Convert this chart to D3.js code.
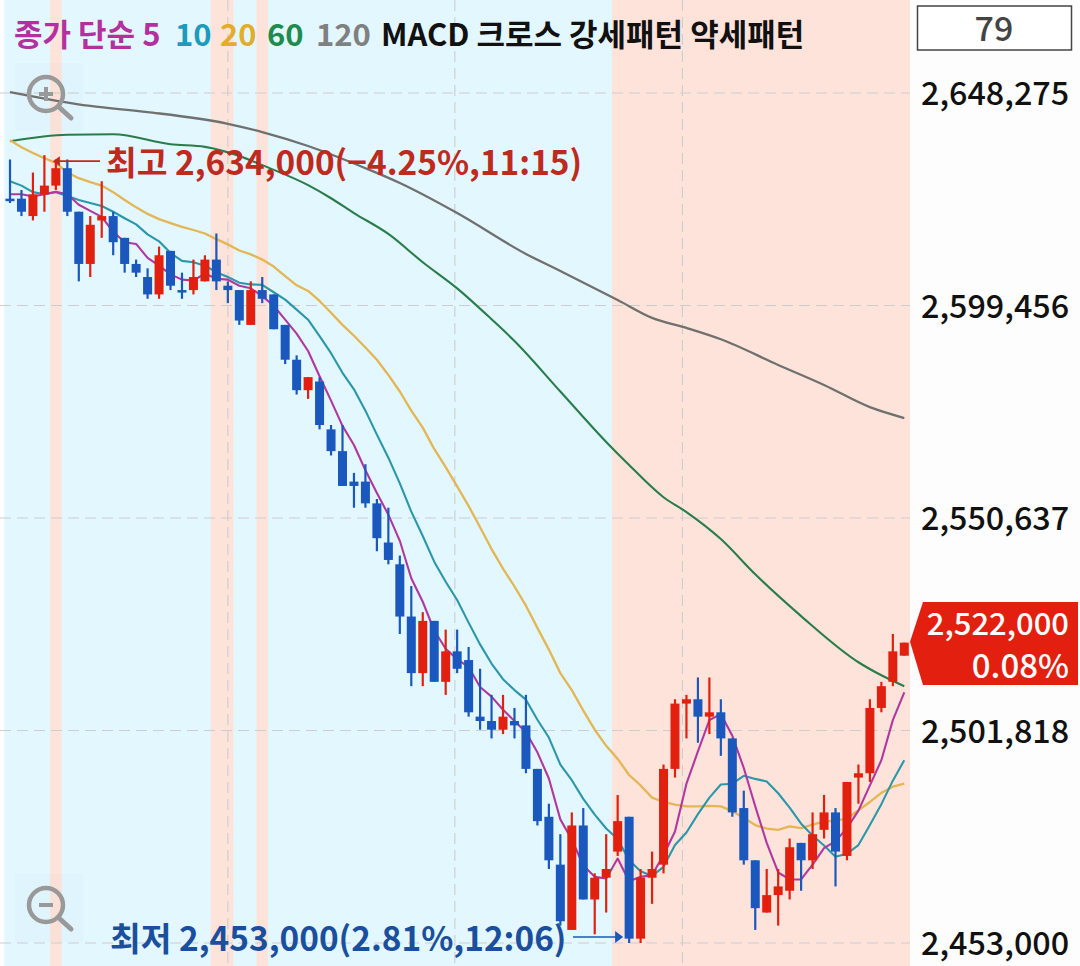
<!DOCTYPE html>
<html><head><meta charset="utf-8">
<style>
html,body{margin:0;padding:0;background:#fff}
svg{display:block}
text{font-family:"Noto Sans CJK KR","Noto Sans",sans-serif}
</style>
<script src="https://cdn.jsdelivr.net/npm/d3@7/dist/d3.min.js"></script>
</head><body>
<svg id="c" width="1080" height="966"></svg>
<script>
// prices in thousands of won
const opens=[2624,2624,2620,2625,2627,2631,2621,2609,2619,2620,2615,2609,2606,2602,2612,2603,2603,2605,2610,2604,2603,2595,2603,2602,2595,2587,2580,2582,2571,2566,2559,2559,2554,2545,2540,2528,2515,2527,2513,2520,2518,2505,2504,2502,2504,2503,2493,2482,2471,2456,2480,2463,2468,2474,2482,2454,2468,2471,2493,2508,2509,2505,2506,2500,2484,2472,2460,2464,2465,2476,2472,2479,2483,2473,2491,2492,2507,2513,2519];
const highs=[2633,2626,2630,2634,2633,2633,2621,2620,2628,2621,2615,2610,2608,2613,2612,2607,2610,2611,2616,2605,2603,2605,2606,2602,2595,2588,2583,2583,2572,2572,2561,2563,2555,2553,2542,2535,2529,2527,2525,2525,2521,2516,2510,2510,2507,2510,2493,2485,2478,2483,2484,2469,2478,2487,2482,2470,2474,2494,2509,2510,2514,2514,2509,2500,2488,2472,2470,2470,2477,2476,2483,2487,2484,2490,2494,2509,2513,2524,2522];
const lows=[2623,2620,2619,2621,2626,2620,2605,2606,2615,2611,2607,2606,2601,2601,2603,2601,2602,2605,2603,2600,2595,2595,2600,2594,2586,2579,2578,2571,2565,2558,2553,2553,2543,2540,2524,2512,2512,2513,2510,2515,2505,2502,2500,2501,2500,2492,2480,2470,2457,2456,2463,2455,2460,2473,2453,2453,2462,2469,2491,2500,2499,2501,2496,2482,2471,2456,2460,2457,2463,2465,2470,2477,2466,2472,2485,2490,2506,2512,2519];
const closes=[2624,2621,2625,2627,2631,2621,2609,2618,2620,2614,2609,2607,2602,2611,2604,2603,2606,2610,2605,2603,2596,2603,2601,2594,2587,2580,2583,2572,2566,2558,2558,2554,2546,2541,2528,2515,2527,2513,2520,2516,2506,2504,2502,2505,2503,2493,2481,2472,2458,2480,2463,2468,2470,2481,2454,2468,2470,2493,2508,2509,2505,2506,2500,2483,2472,2461,2464,2466,2475,2472,2478,2483,2474,2490,2492,2507,2512,2520,2522];
const ma5=[2625,2625,2624.5,2625,2625.6,2625,2622.6,2621.2,2619.8,2616.4,2614,2613.6,2610.4,2608.6,2606.6,2605.4,2605.2,2606.8,2605.6,2605.4,2604,2603.4,2601.6,2599.4,2596.2,2593,2589,2583.2,2577.6,2571.8,2567.4,2561.6,2556.4,2551.4,2545.4,2536.8,2531.4,2524.8,2520.6,2518.2,2516.4,2511.8,2509.6,2506.6,2504,2501.4,2496.8,2490.8,2481.4,2476.8,2470.8,2468.2,2467.8,2472.4,2467.2,2468.2,2468.6,2473.2,2478.6,2489.6,2497,2504.2,2505.6,2500.6,2493.2,2484.4,2476,2469.2,2467.6,2467.6,2471,2474.8,2476.4,2479.4,2483.4,2489.2,2495,2504.2,2510.6];
const ma10=[2628,2627,2625.5,2625,2625.5,2624.6,2623.7,2623,2622.3,2621,2619.5,2618.1,2615.8,2614.2,2611.5,2609.7,2609.4,2608.6,2607.1,2606,2604.7,2604.3,2604.2,2602.5,2600.8,2598.5,2596.2,2592.4,2588.5,2584,2580.2,2575.3,2569.8,2564.5,2558.6,2552.1,2546.5,2540.6,2536,2531.8,2526.6,2521.6,2517.2,2513.6,2511.1,2508.9,2504.3,2500.2,2494,2490.4,2486.1,2482.5,2479.3,2476.9,2472,2469.5,2468.4,2470.5,2475.5,2478.4,2482.6,2486.4,2489.4,2489.6,2491.4,2490.7,2490.1,2487.4,2484.1,2480.4,2477.7,2475.4,2472.8,2473.5,2475.5,2480.1,2484.9,2490.3,2495];
const ma20=[2637.4,2635.8,2634.5,2633.3,2632.2,2630,2628.7,2627.8,2627,2625.5,2623.7,2622,2620.5,2619.3,2618.4,2617.5,2616.8,2616,2614.7,2613.5,2612.1,2611.2,2610,2608.4,2606.2,2604.1,2602.8,2600.5,2597.8,2595,2592.5,2589.8,2587,2583.5,2579.7,2575.3,2571.4,2566.5,2562.3,2557.9,2553.4,2548.5,2543.5,2539,2534.9,2530.5,2525.4,2520.4,2515,2511.1,2506.4,2502,2498.3,2495.3,2491.6,2489.2,2486.4,2485.4,2484.8,2484.4,2484.4,2484.5,2484.4,2483.3,2481.7,2480.1,2479.3,2479,2479.8,2479.4,2480.2,2480.9,2481.1,2481.6,2483.5,2485.4,2487.5,2488.9,2489.6];
const ma60Idx=[0,5,9,14,17,20,22,26,28,30,33,36,39,42,44,48,52,54,57,59,62,65,69,74,76,78];
const ma60=[2637.2,2638.7,2638.8,2636.5,2635.9,2633.8,2631.7,2627.1,2624.1,2620.7,2615.9,2609.4,2603.4,2596.3,2591.3,2579.7,2568.1,2562.8,2555.4,2552,2545.8,2537.7,2528.1,2517.5,2514.5,2512];
const ma120Idx=[0,7,12,19,22,26,31,34,39,45,48,53,56,59,62,67,71,75,78];
const ma120=[2648.5,2645.3,2643.9,2641.2,2639.3,2636.1,2631,2627.6,2620.7,2611.3,2607.4,2600.7,2596.6,2594.3,2591.7,2585.8,2581.2,2576.1,2573.6];
const signalBars=[4,18,19,22];
const strongStart=53;
const gridIdx=[19,38.8,58.65];
const priceTicks=[2648275,2599456,2550637,2501818,2453000];
const legendItems=[["종가 단순 5",14,"#b5309f"],["10",175,"#1e9abb"],["20",220,"#e3ad2c"],["60",267,"#1f8c4d"],["120",316,"#808080"],["MACD 크로스 강세패턴 약세패턴",381,"#111"]];
const highLabel="최고 2,634,000(−4.25%,11:15)";
const lowLabel="최저 2,453,000(2.81%,12:06)";
const lastPct="0.08%";
const barCount="79";

const svg=d3.select("#c");
const n=closes.length;
const x=d3.scaleLinear().domain([0,n-1]).range([10,904.3]);
const y=d3.scaleLinear().domain([priceTicks[4],priceTicks[0]]).range([943,93]);
const Y=v=>y(v*1000);
const step=x(1)-x(0);
const fmt=d3.format(",");

// backgrounds
svg.append("rect").attr("x",0).attr("y",0).attr("width",1080).attr("height",966).attr("fill","#fdfdfd");
const bgL=x(-0.5), bgR=x(n-0.5), bgM=x(strongStart-0.5);
svg.append("rect").attr("x",bgL).attr("y",0).attr("width",bgM-bgL).attr("height",966).attr("fill","#e2f7ff");
svg.append("rect").attr("x",bgM).attr("y",0).attr("width",bgR-bgM).attr("height",966).attr("fill","#fee3db");
svg.append("g").selectAll("rect").data(signalBars).join("rect")
  .attr("x",d=>x(d-0.5)).attr("y",0).attr("width",step).attr("height",966).attr("fill","#fee3db");

// grid
const grid=svg.append("g").attr("stroke","#cdcdcd").attr("stroke-width",1.1).attr("stroke-dasharray","11 6").attr("fill","none");
grid.selectAll("line.h").data(priceTicks).join("line").attr("class","h")
  .attr("x1",0).attr("x2",bgR).attr("y1",d=>y(d)).attr("y2",d=>y(d));
grid.selectAll("line.v").data(gridIdx).join("line").attr("class","v")
  .attr("x1",d=>x(d)).attr("x2",d=>x(d)).attr("y1",0).attr("y2",966);

// moving averages
const line=d3.line().x(d=>x(d[0])).y(d=>Y(d[1]));
const smooth=d3.line().x(d=>x(d[0])).y(d=>Y(d[1])).curve(d3.curveMonotoneX);
const series=[
 [smooth,ma120.map((v,i)=>[ma120Idx[i],v]),"#70706f",2.3],
 [smooth,ma60.map((v,i)=>[ma60Idx[i],v]),"#2a7d4b",2.1],
 [line,ma20.map((v,i)=>[i,v]),"#e4b654",2.3],
 [line,ma10.map((v,i)=>[i,v]),"#2b97a9",2.1],
 [line,ma5.map((v,i)=>[i,v]),"#b0389f",2.1]
];
svg.append("g").selectAll("path").data(series).join("path")
  .attr("d",d=>d[0](d[1])).attr("fill","none").attr("stroke",d=>d[2]).attr("stroke-width",d=>d[3]).attr("stroke-linejoin","round");

// candles
const col=i=>closes[i]>opens[i]?"#e2200f":"#1a58bd";
const idx=d3.range(n);
const cg=svg.append("g");
cg.selectAll("line").data(idx).join("line")
  .attr("x1",i=>x(i)).attr("x2",i=>x(i)).attr("y1",i=>Y(highs[i])).attr("y2",i=>Y(lows[i]))
  .attr("stroke",col).attr("stroke-width",2.2);
cg.selectAll("rect").data(idx).join("rect")
  .attr("x",i=>x(i)-4.5).attr("width",9)
  .attr("y",i=>Math.min(Y(opens[i]),Y(closes[i])))
  .attr("height",i=>Math.max(2.5,Math.abs(Y(opens[i])-Y(closes[i]))))
  .attr("fill",col);

// legend
svg.append("g").selectAll("text").data(legendItems).join("text")
  .attr("x",d=>d[1]).attr("y",46).attr("fill",d=>d[2])
  .attr("font-size",31).attr("font-weight",700).text(d=>d[0]);

// high and low annotation
const hiColor="#bf2a1e", loColor="#1b4f9e";
const hy=y(2634000)+6, ly=y(2453000)-6;
svg.append("line").attr("x1",100).attr("x2",x(4)-1).attr("y1",hy).attr("y2",hy).attr("stroke",hiColor).attr("stroke-width",1.6);
svg.append("path").attr("d",d3.line()([[x(4)-3,hy],[x(4)+4,hy-5],[x(4)+4,hy+5]])).attr("fill",hiColor);
svg.append("text").attr("x",106).attr("y",175).attr("fill",hiColor).attr("font-size",33.4).attr("font-weight",700).text(highLabel);
svg.append("line").attr("x1",573).attr("x2",x(54)-10).attr("y1",ly).attr("y2",ly).attr("stroke","#1a58bd").attr("stroke-width",1.6);
svg.append("path").attr("d",d3.line()([[x(54)-6,ly],[x(54)-14,ly-6],[x(54)-14,ly+6]])).attr("fill","#1a58bd");
svg.append("text").attr("x",110).attr("y",951).attr("fill",loColor).attr("font-size",33.4).attr("font-weight",700).text(lowLabel);

// axis labels
const axis=d3.axisRight(y).tickValues(priceTicks).tickSize(0).tickPadding(0).tickFormat(fmt);
const ag=svg.append("g").attr("transform","translate(921,0)").call(axis);
ag.select(".domain").remove();
ag.selectAll("text").attr("font-size",32.3).attr("font-weight",500).attr("fill","#111").attr("dy","0.37em")
  .style("font-family",'"Noto Sans CJK KR"');

// bar count box
svg.append("rect").attr("x",917.5).attr("y",6).attr("width",154).attr("height",44).attr("fill","#fff").attr("stroke","#444").attr("stroke-width",1.5);
svg.append("text").attr("x",994).attr("y",41).attr("text-anchor","middle").attr("font-size",34).attr("font-weight",500).attr("fill","#444").text(barCount);

// last price tag
const ty=Y(closes[n-1])-1;
svg.append("path").attr("d",d3.line()([[910,ty],[923,602],[1078,602],[1078,685],[923,685]])+"Z").attr("fill","#e3200f");
svg.append("text").attr("x",1069).attr("y",635).attr("text-anchor","end").attr("font-size",31).attr("font-weight",500).attr("fill","#fff").text(fmt(closes[n-1]*1000));
svg.append("text").attr("x",1069).attr("y",678).attr("text-anchor","end").attr("font-size",33).attr("font-weight",500).attr("fill","#fff").text(lastPct);

// zoom buttons
function zoomBtn(cy,plus){
  const g=svg.append("g");
  g.append("rect").attr("x",15).attr("y",cy-31).attr("width",68).attr("height",68).attr("fill","#888").attr("opacity",0.025);
  g.append("circle").attr("cx",46).attr("cy",cy).attr("r",17).attr("fill","none").attr("stroke","#999").attr("stroke-width",4.5);
  g.append("line").attr("x1",60).attr("y1",cy+14).attr("x2",71).attr("y2",cy+24).attr("stroke","#999").attr("stroke-width",5).attr("stroke-linecap","round");
  g.append("line").attr("x1",39).attr("x2",53).attr("y1",cy).attr("y2",cy).attr("stroke","#999").attr("stroke-width",4);
  if(plus) g.append("line").attr("x1",46).attr("x2",46).attr("y1",cy-7).attr("y2",cy+7).attr("stroke","#999").attr("stroke-width",4);
}
zoomBtn(94,true);
zoomBtn(905,false);
</script>
</body></html>
